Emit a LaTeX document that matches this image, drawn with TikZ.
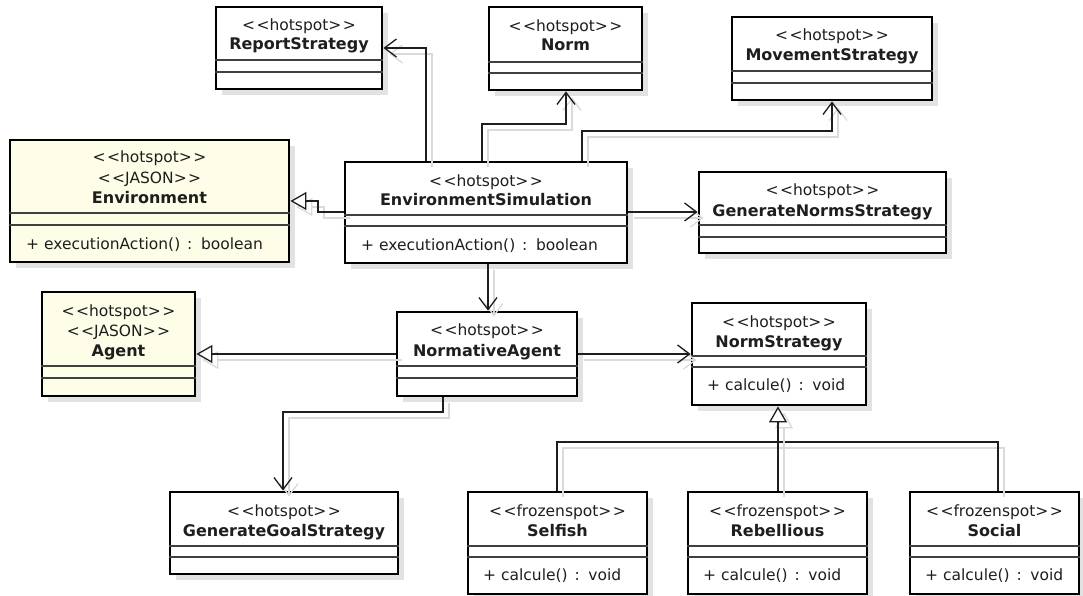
\documentclass[tikz,border=0pt]{standalone}
\usepackage{fontspec}
\setmainfont{DejaVu Sans}
\usetikzlibrary{arrows.meta,fit,calc}
\definecolor{jason}{HTML}{FEFEE8}
\definecolor{shadowc}{HTML}{E2E2E2}
\definecolor{lineshadow}{HTML}{DADADA}
\definecolor{inkc}{HTML}{1E1E1E}
\tikzset{
 classbox/.style={draw=black, line width=2.8pt, inner sep=0pt, fill=white},
 sepline/.style={draw=inkc!85, line width=1.1pt},
 stereo/.style={font=\fontsize{15.5}{18}\selectfont, text=inkc, anchor=base, inner sep=0pt},
 cname/.style={font=\fontsize{16}{18}\selectfont\bfseries, text=inkc, anchor=base, inner sep=0pt},
 opline/.style={font=\fontsize{15.5}{18}\selectfont, text=inkc, anchor=base west, inner sep=0pt},
 assoc/.style={draw=inkc, line width=1.3pt, -{Straight Barb[length=12pt,width=18pt,line width=1.3pt]}},
 gen/.style={draw=inkc, line width=1.3pt, -{Triangle[open,length=16pt,width=18pt,fill=white,line width=1.3pt]}},
 genline/.style={draw=inkc, line width=1.3pt},
}
\newcommand\st[1]{<\kern1.5pt<#1>\kern1.5pt>}
\newcommand\cln{\kern2pt:\kern2pt}
\newcommand\umlclass[8]{%
  \fill[shadowc] (#2+6,#3+6) rectangle (#4+6,#5+6);
  \node[classbox, fill=#8, fit={(#2,#3) (#4,#5)}] (#1) {};
  \draw[sepline] (#1.west |- 0,#6) -- (#1.east |- 0,#6);
  \draw[sepline] (#1.west |- 0,#7) -- (#1.east |- 0,#7);
}
\newcommand\conn[2]{%
  \draw[#1, draw=lineshadow, transform canvas={shift={(6,6)}}] #2;
  \draw[#1] #2;
}
\begin{document}
\begin{tikzpicture}[x=1pt,y=-1pt]
\useasboundingbox[fill=white] (0,0) rectangle (1083,596);

% classes
\umlclass{report}{216}{7}{382}{89}{60}{72}{white}
\umlclass{norm}{489}{7}{642}{90}{62}{73}{white}
\umlclass{movement}{732}{17}{932}{100}{71}{83}{white}
\umlclass{environment}{10}{140}{289}{262}{213}{225}{jason}
\umlclass{envsim}{345}{162}{627}{263}{215}{226}{white}
\umlclass{gennorms}{699}{172}{946}{253}{225}{237}{white}
\umlclass{agent}{42}{292}{195}{396}{366}{378}{jason}
\umlclass{normagent}{397}{312}{577}{396}{366}{378}{white}
\umlclass{normstrat}{692}{303}{866}{405}{356}{367}{white}
\umlclass{gengoal}{170}{492}{398}{574}{546}{557}{white}
\umlclass{selfish}{468}{492}{647}{594}{546}{557}{white}
\umlclass{rebellious}{688}{492}{867}{594}{546}{557}{white}
\umlclass{social}{910}{492}{1079}{594}{546}{557}{white}

% texts
\node[stereo] (report-s) at (299,31) {\st{hotspot}};
\node[cname] (report-n) at (299,50) {ReportStrategy};
\node[stereo] (norm-s) at (565.5,32) {\st{hotspot}};
\node[cname] (norm-n) at (565.5,51) {Norm};
\node[stereo] (movement-s) at (832,41) {\st{hotspot}};
\node[cname] (movement-n) at (832,61) {MovementStrategy};
\node[stereo] (environment-s) at (149.5,163) {\st{hotspot}};
\node[stereo] (environment-j) at (149.5,183) {\st{JASON}};
\node[cname] (environment-n) at (149.5,203) {Environment};
\node[opline] (environment-o) at (26,249) {+ executionAction() \cln{} boolean};
\node[stereo] (envsim-s) at (486,186) {\st{hotspot}};
\node[cname] (envsim-n) at (486,205) {EnvironmentSimulation};
\node[opline] (envsim-o) at (361,250) {+ executionAction() \cln{} boolean};
\node[stereo] (gennorms-s) at (822.5,196) {\st{hotspot}};
\node[cname] (gennorms-n) at (822.5,216) {GenerateNormsStrategy};
\node[stereo] (agent-s) at (118.5,316) {\st{hotspot}};
\node[stereo] (agent-j) at (118.5,336) {\st{JASON}};
\node[cname] (agent-n) at (118.5,356) {Agent};
\node[stereo] (normagent-s) at (487,335) {\st{hotspot}};
\node[cname] (normagent-n) at (487,356) {NormativeAgent};
\node[stereo] (normstrat-s) at (779,327) {\st{hotspot}};
\node[cname] (normstrat-n) at (779,347) {NormStrategy};
\node[opline] (normstrat-o) at (707,390) {+ calcule() \cln{} void};
\node[stereo] (gengoal-s) at (284,516) {\st{hotspot}};
\node[cname] (gengoal-n) at (284,536) {GenerateGoalStrategy};
\node[stereo] (selfish-s) at (557.5,516) {\st{frozenspot}};
\node[cname] (selfish-n) at (557.5,536) {Selfish};
\node[opline] (selfish-o) at (483,580) {+ calcule() \cln{} void};
\node[stereo] (rebellious-s) at (777.5,516) {\st{frozenspot}};
\node[cname] (rebellious-n) at (777.5,536) {Rebellious};
\node[opline] (rebellious-o) at (703,580) {+ calcule() \cln{} void};
\node[stereo] (social-s) at (994.5,516) {\st{frozenspot}};
\node[cname] (social-n) at (994.5,536) {Social};
\node[opline] (social-o) at (925,580) {+ calcule() \cln{} void};

% connectors
\conn{assoc}{(426,0 |- envsim.north) -- (426,48) -- (report.east |- 0,48)}
\conn{assoc}{(482,0 |- envsim.north) -- (482,124) -- (566,124) -- (566,0 |- norm.south)}
\conn{assoc}{(582,0 |- envsim.north) -- (582,131) -- (832,131) -- (832,0 |- movement.south)}
\conn{assoc}{(envsim.east |- 0,212) -- (gennorms.west |- 0,212)}
\conn{gen}{(envsim.west |- 0,212) -- (318,212) -- (318,201) -- (environment.east |- 0,201)}
\conn{assoc}{(488,0 |- envsim.south) -- (488,0 |- normagent.north)}
\conn{gen}{(normagent.west |- 0,354) -- (agent.east |- 0,354)}
\conn{assoc}{(normagent.east |- 0,354) -- (normstrat.west |- 0,354)}
\conn{assoc}{(443,0 |- normagent.south) -- (443,412) -- (283,412) -- (283,0 |- gengoal.north)}
\conn{genline}{(557,0 |- selfish.north) -- (557,442) -- (998,442) -- (998,0 |- social.north)}
\conn{gen}{(778,0 |- rebellious.north) -- (778,0 |- normstrat.south)}
\end{tikzpicture}
\end{document}
